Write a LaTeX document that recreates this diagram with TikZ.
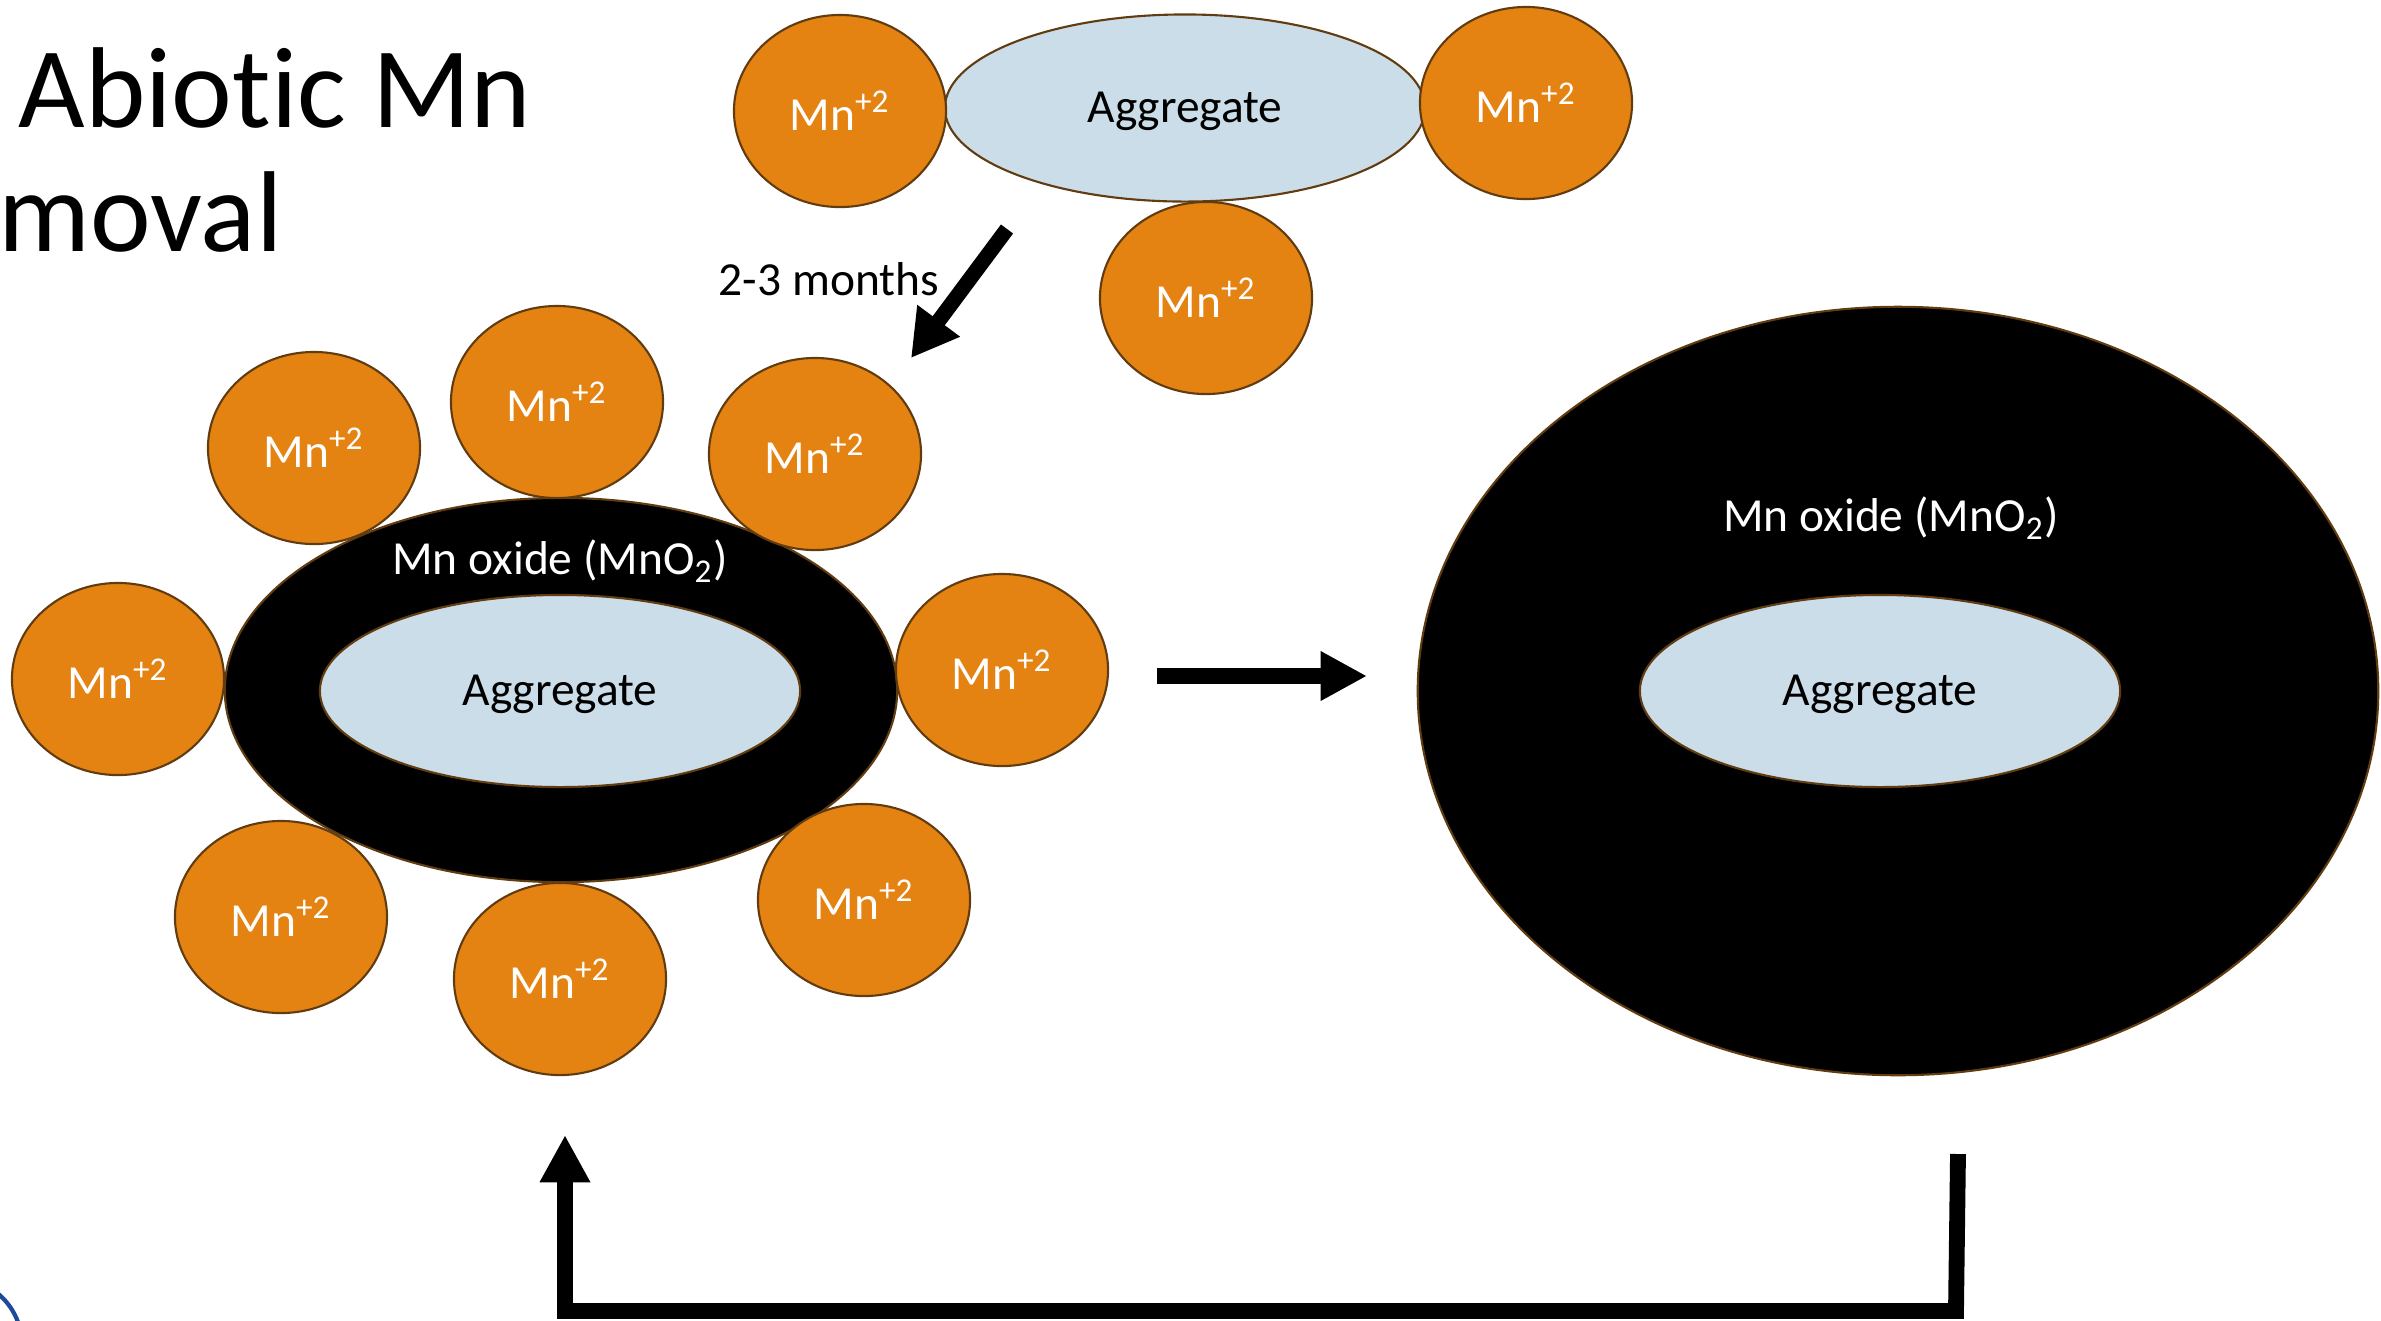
\documentclass[tikz,border=0pt]{standalone}
\usepackage{fontspec}
\setmainfont[Ligatures=NoCommon]{Carlito}
\usetikzlibrary{shapes.geometric,arrows.meta}
\definecolor{mnorange}{RGB}{228,130,18}
\definecolor{aggblue}{RGB}{203,221,233}
\definecolor{edgebrown}{RGB}{96,60,16}
\definecolor{logoblue}{RGB}{31,73,155}
\newcommand{\lblfont}{\fontsize{13.5}{16}\selectfont}
\newcommand{\titlefont}{\fontsize{32.7}{33}\selectfont}
\newcommand{\mnion}{Mn\textsuperscript{+2}}
\newcommand{\aggtxt}{\raisebox{-1pt}[\height][\depth]{Aggregate}}
\begin{document}
\begin{tikzpicture}[x=0.01cm,y=-0.01cm,
  mnball/.style={ellipse, draw=edgebrown, line width=0.6pt, fill=mnorange,
    minimum width=2.12cm, minimum height=1.92cm, inner sep=0pt, text=white, font=\lblfont},
  aggbody/.style={ellipse, draw=edgebrown, line width=0.6pt, fill=aggblue,
    minimum width=4.8cm, minimum height=1.92cm, inner sep=0pt, text=black, font=\lblfont},
  oxideshell/.style={ellipse, draw=edgebrown, line width=0.6pt, fill=black, inner sep=0pt},
  whitelbl/.style={text=white, font=\lblfont, inner sep=0pt},
  blacklbl/.style={text=black, font=\lblfont, inner sep=0pt},
  blockarrow/.style={line width=4.5pt, -{Triangle[length=13.2pt,width=13.2pt]}},
  looparrow/.style={line width=4.5pt, line join=miter, -{Triangle[length=13.5pt,width=13.5pt]}},
]
\useasboundingbox (0,0) rectangle (2381,1320);
\clip (0,0) rectangle (2381,1320);

% title
\node[anchor=base west, font=\titlefont, inner sep=0pt] (title1) at (18,127) {Abiotic Mn};
\node[anchor=base west, font=\titlefont, inner sep=0pt] (title2) at (-2,251) {moval};

% logo fragment
\draw[logoblue, line width=1.2pt] (-45,1345) circle[radius=67];

% top group
\node[aggbody, minimum height=1.87cm] (aggtop) at (1185,108) {\aggtxt};
\node[mnball] (t1) at (840,111) {\mnion};
\node[mnball] (t2) at (1526,103) {\mnion};
\node[mnball] (t3) at (1206,298) {\mnion};

% left group
\node[oxideshell, minimum width=6.72cm, minimum height=3.84cm] (oxleft) at (561,690) {};
\node[aggbody] (aggleft) at (560,691) {\aggtxt};
\node[whitelbl] (oxlbl1) at (560,561) {Mn oxide (MnO\textsubscript{2})};
\node[mnball] (m1) at (314,448) {\mnion};
\node[mnball] (m2) at (557,402) {\mnion};
\node[mnball] (m3) at (815,454) {\mnion};
\node[mnball] (m4) at (118,679) {\mnion};
\node[mnball] (m5) at (1002,670) {\mnion};
\node[mnball] (m6) at (281,917) {\mnion};
\node[mnball] (m7) at (560,979) {\mnion};
\node[mnball] (m8) at (864,900) {\mnion};

% right group
\node[oxideshell, minimum width=9.6cm, minimum height=7.68cm] (oxright) at (1898,691) {};
\node[aggbody] (aggright) at (1880,691) {\aggtxt};
\node[whitelbl] (oxlbl2) at (1891,518) {Mn oxide (MnO\textsubscript{2})};

% arrows
\coordinate (d1) at (1007,229);
\coordinate (d2) at (911,358);
\draw[blockarrow, line width=4.3pt, -{Triangle[length=13.2pt,width=14.2pt]}] (d1) -- (d2);
\node[blacklbl] (months) at (829,279) {2-3 months};

\coordinate (h1) at (1157,676);
\coordinate (h2) at (1367,676);
\draw[blockarrow] (h1) -- (h2);

\coordinate (r1) at (1958,1154);
\coordinate (r2) at (1956,1311);
\coordinate (r3) at (565,1311);
\coordinate (r4) at (565,1135);
\draw[looparrow] (r1) -- (r2) -- (r3) -- (r4);
\end{tikzpicture}
\end{document}
